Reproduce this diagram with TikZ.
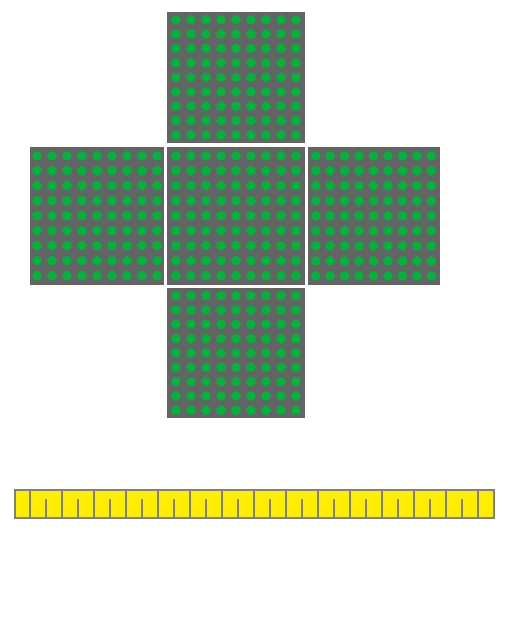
\documentclass[tikz,border=0pt]{standalone}
\usetikzlibrary{calc}
\definecolor{panelgray}{HTML}{646464}
\definecolor{dotgreen}{HTML}{00B33C}
\definecolor{baryellow}{HTML}{FFEE00}
\definecolor{bargray}{HTML}{808080}
\newcommand{\dotpanel}[8]{%
  \fill[panelgray] (#1,#2) rectangle (#3,#4);
  \foreach \i in {0,...,8}{
    \foreach \j in {0,...,8}{
      \fill[dotgreen] ({#5+\i*(#6-#5)/8},{#7+\j*(#8-#7)/8}) circle[radius=4.8];
    }
  }
}
\begin{document}
\begin{tikzpicture}[x=1pt,y=-1pt]
\useasboundingbox[fill=white] (0,0) rectangle (504,629);
% cube net panels
\dotpanel{167}{12}{305}{143}{176}{296}{19.7}{135}
\dotpanel{30}{147}{164}{285}{37}{157}{155.7}{275.7}
\dotpanel{167}{147}{305}{285}{176}{296}{155.7}{275.7}
\dotpanel{308}{147}{440}{285}{315.7}{431.3}{155.7}{276}
\dotpanel{167}{288}{305}{418}{176}{296}{295.7}{410.3}
% yellow bar
\fill[baryellow] (15,490) rectangle (494,517.5);
\foreach \k in {0,...,14}{
  \draw[bargray,line width=2] ({30+32*\k},490) -- ({30+32*\k},517.5);
}
\foreach \k in {0,...,13}{
  \draw[bargray,line width=2] ({46+32*\k},499) -- ({46+32*\k},517.5);
}
\draw[bargray,line width=2] (15,490) rectangle (494,517.5);
\end{tikzpicture}
\end{document}
